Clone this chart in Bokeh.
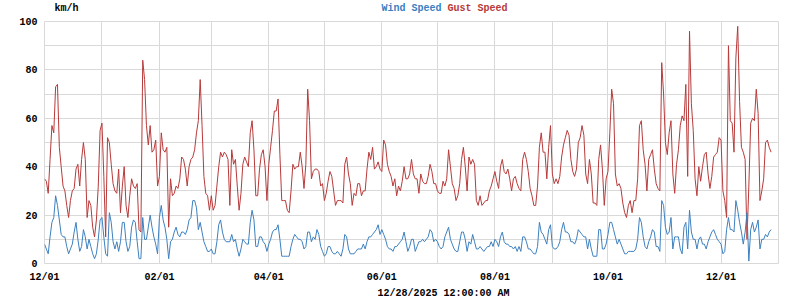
from datetime import datetime
import pandas as pd
from bokeh.plotting import figure
from bokeh.layouts import column
from bokeh.models import Range1d, FixedTicker, DatetimeTickFormatter, MonthsTicker, Label
from bokeh.embed import file_html
from bokeh.resources import INLINE

start_date = "2024-12-01"

gust_speed = [
    35, 34, 29, 43, 57, 54, 73, 74, 48, 40,
    32, 30, 24, 19, 26, 30, 31, 39, 41, 32,
    43, 50, 43, 19, 26, 24, 15, 11, 18, 32,
    55, 58, 36, 11, 52, 50, 41, 33, 30, 29,
    39, 21, 32, 40, 24, 19, 28, 35, 32, 31,
    33, 14, 13, 84, 76, 57, 49, 57, 46, 47,
    51, 32, 36, 54, 47, 46, 48, 15, 35, 28,
    29, 32, 31, 35, 44, 43, 39, 32, 40, 43,
    44, 47, 54, 59, 76, 57, 36, 29, 28, 22,
    28, 22, 24, 32, 40, 46, 44, 46, 45, 43,
    24, 47, 41, 43, 32, 22, 29, 41, 44, 42,
    40, 54, 59, 47, 28, 28, 39, 45, 47, 40,
    26, 41, 48, 55, 63, 63, 68, 45, 26, 26,
    26, 22, 21, 30, 41, 39, 40, 40, 46, 40,
    31, 41, 72, 59, 35, 38, 39, 39, 38, 32,
    33, 26, 29, 34, 38, 36, 30, 24, 26, 26,
    26, 25, 41, 44, 37, 33, 24, 29, 28, 33,
    33, 28, 30, 30, 39, 46, 43, 48, 39, 40,
    42, 39, 38, 51, 49, 41, 38, 36, 32, 35,
    28, 32, 30, 34, 40, 35, 35, 37, 43, 37,
    35, 35, 29, 37, 34, 33, 33, 36, 41, 38,
    33, 33, 30, 29, 29, 34, 32, 35, 47, 40,
    33, 31, 26, 28, 33, 43, 48, 40, 30, 44,
    41, 43, 41, 26, 24, 28, 24, 25, 26, 26,
    30, 32, 35, 38, 34, 31, 40, 43, 38, 37,
    39, 35, 30, 35, 36, 33, 31, 30, 43, 46,
    43, 38, 31, 28, 24, 24, 32, 48, 54, 46,
    46, 35, 48, 57, 37, 33, 35, 33, 36, 44,
    49, 52, 55, 53, 43, 38, 36, 39, 50, 52,
    57, 53, 37, 33, 43, 37, 25, 25, 24,
    43, 49, 39, 24, 35, 38, 54, 72, 66, 37,
    32, 33, 31, 25, 21, 19, 24, 26, 21, 26,
    26, 35, 57, 59, 47, 41, 30, 43, 45, 47,
    39, 33, 31, 30, 83, 70, 50, 45, 54, 59,
    37, 29, 41, 47, 57, 61, 59, 74, 36, 96,
    66, 55, 35, 28, 40, 34, 40, 45, 46, 37,
    31, 36, 44, 45, 46, 52, 51, 30, 26, 19,
    90, 59, 58, 46, 85, 98, 67, 48, 46, 43,
    10, 32, 58, 60, 59, 72, 62, 26, 30, 35,
    50, 51, 48, 46,
]

wind_speed = [
    8, 6, 4, 11, 17, 19, 28, 24, 18, 12,
    11, 11, 7, 4, 6, 8, 13, 17, 10, 5,
    7, 14, 11, 6, 10, 7, 4, 2, 4, 10,
    18, 19, 11, 4, 3, 21, 17, 9, 6, 9,
    5, 9, 17, 17, 9, 5, 7, 15, 18, 17,
    9, 2, 2, 19, 10, 10, 15, 20, 15, 11,
    8, 4, 19, 24, 18, 15, 10, 2, 9, 10,
    13, 15, 12, 11, 13, 13, 12, 14, 18, 19,
    26, 26, 23, 14, 17, 13, 9, 7, 5, 5,
    6, 4, 4, 9, 16, 18, 13, 10, 9, 9,
    9, 12, 9, 10, 6, 3, 6, 10, 9, 8,
    8, 17, 22, 18, 7, 7, 11, 11, 9, 8,
    5, 8, 10, 13, 14, 14, 16, 10, 3, 3,
    3, 3, 3, 7, 10, 12, 11, 10, 10, 9,
    6, 7, 13, 13, 9, 11, 10, 14, 12, 7,
    5, 3, 4, 7, 7, 5, 4, 4, 5, 4,
    3, 6, 12, 11, 6, 4, 4, 4, 5, 6,
    6, 6, 8, 6, 9, 11, 11, 12, 13, 14,
    16, 12, 14, 12, 10, 7, 6, 6, 5, 7,
    7, 8, 9, 10, 13, 9, 5, 7, 10, 10,
    5, 7, 9, 9, 10, 9, 10, 11, 14, 13,
    9, 10, 9, 7, 6, 7, 11, 13, 15, 10,
    8, 6, 5, 5, 9, 13, 13, 10, 5, 9,
    8, 12, 9, 6, 6, 7, 6, 5, 6, 7,
    7, 9, 7, 10, 9, 7, 11, 13, 9, 8,
    8, 7, 7, 6, 7, 5, 7, 5, 11, 11,
    9, 6, 6, 5, 4, 4, 7, 17, 13, 12,
    10, 8, 14, 16, 7, 6, 6, 7, 9, 14,
    17, 13, 13, 12, 9, 9, 8, 10, 14, 13,
    12, 11, 11, 6, 10, 6, 3, 3, 3,
    14, 14, 6, 6, 8, 12, 17, 17, 14, 11,
    8, 10, 8, 6, 4, 4, 5, 5, 5, 5,
    6, 10, 19, 17, 11, 7, 6, 9, 11, 14,
    13, 7, 7, 5, 26, 24, 15, 12, 13, 19,
    6, 11, 11, 11, 6, 4, 15, 17, 6, 22,
    13, 10, 10, 6, 10, 11, 8, 8, 6, 9,
    11, 13, 14, 12, 10, 9, 8, 4, 5, 14,
    19, 14, 14, 13, 26, 22, 17, 13, 8, 13,
    21, 1, 14, 17, 13, 15, 18, 6, 10, 10,
    12, 11, 13, 14,
]

tick_dates = ["2024-12-01", "2025-02-01", "2025-04-01", "2025-06-01",
              "2025-08-01", "2025-10-01", "2025-12-01"]
y_ticks = [0, 20, 40, 60, 80, 100]
y_grid = [0, 10, 20, 30, 40, 50, 60, 70, 80, 90, 100]
series_names = ["Wind Speed", "Gust Speed"]
unit_label = "km/h"
time_label = "12/28/2025 12:00:00 AM"

dates = pd.date_range(start_date, periods=len(wind_speed), freq="D")

WIND_C = "#3d80bf"
GUST_C = "#b83a3a"
GRID_C = "#d9d9d9"
FONT = "Liberation Mono"


def text_strip(height):
    f = figure(width=800, height=height, x_range=Range1d(0, 800), y_range=Range1d(0, height),
               output_backend="svg", toolbar_location=None,
               min_border=0, min_border_left=0, min_border_right=0,
               min_border_top=0, min_border_bottom=0)
    f.axis.visible = False
    f.grid.visible = False
    f.outline_line_color = None
    f.background_fill_color = "white"
    f.border_fill_color = "white"
    return f


def lab(f, x, y, text, color="black", align="left"):
    f.add_layout(Label(x=x, y=y, x_units="screen", y_units="screen", text=text,
                       text_font=FONT, text_font_style="bold", text_font_size="10px",
                       text_color=color, text_align=align, text_baseline="middle"))


# top strip: unit and series names (canvas y 0..14)
top = text_strip(14)
lab(top, 10, 6.5, unit_label)
lab(top, 337, 6.5, series_names[0], WIND_C)
lab(top, 403, 6.5, series_names[1], GUST_C)

# main plot (canvas y 14..285), frame 21..264
p = figure(width=800, height=271, x_axis_type="datetime",
           x_range=Range1d(datetime(2024, 12, 1), datetime(2026, 1, 1)),
           y_range=Range1d(0, 100),
           output_backend="svg", toolbar_location=None,
           min_border_left=44, min_border_right=22,
           min_border_top=7, min_border_bottom=21)

p.background_fill_color = "white"
p.border_fill_color = "white"
p.outline_line_color = GRID_C

p.xgrid.ticker = MonthsTicker(months=list(range(12)))
p.ygrid.ticker = FixedTicker(ticks=y_grid)
for g in (p.xgrid, p.ygrid):
    g.grid_line_color = GRID_C
    g.grid_line_width = 1

tick_ms = [pd.Timestamp(d).value // 10**6 for d in tick_dates]
p.xaxis.ticker = FixedTicker(ticks=tick_ms)
p.xaxis.formatter = DatetimeTickFormatter(days="%m/%d", months="%m/%d", years="%m/%d")
p.yaxis.ticker = FixedTicker(ticks=y_ticks)

for ax in (p.xaxis, p.yaxis):
    ax.axis_line_color = None
    ax.major_tick_line_color = None
    ax.minor_tick_line_color = None
    ax.major_tick_out = 0
    ax.major_tick_in = 0
    ax.minor_tick_out = 0
    ax.major_label_text_font = FONT
    ax.major_label_text_font_style = "bold"
    ax.major_label_text_font_size = "10px"
    ax.major_label_text_color = "black"
p.xaxis.major_label_standoff = 8
p.yaxis.major_label_standoff = 7

p.line(dates, gust_speed, line_color=GUST_C, line_width=1)
p.line(dates, wind_speed, line_color=WIND_C, line_width=1)

# bottom strip: time stamp (canvas y 285..300)
bottom = text_strip(15)
lab(bottom, 399, 7, time_label, align="center")

layout = column(top, p, bottom, spacing=0)
open("out.html", "w").write(file_html(layout, INLINE))
